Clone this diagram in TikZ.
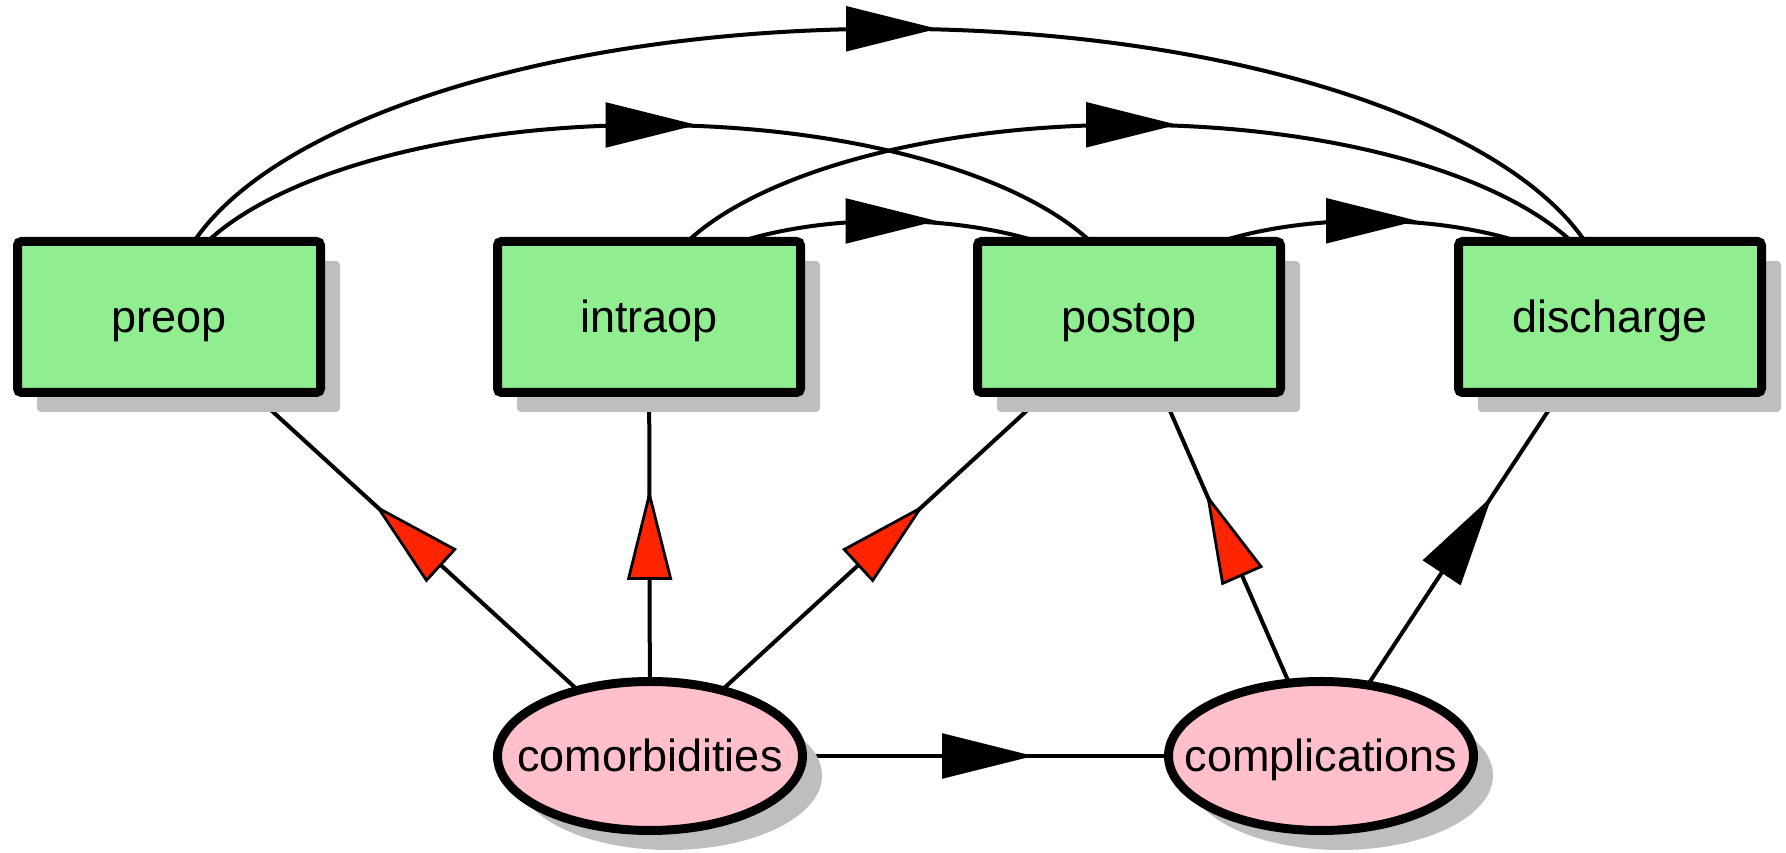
\documentclass[tikz,border=0pt]{standalone}
\usepackage{fontspec}
\setmainfont{Liberation Sans}
\usetikzlibrary{shapes.geometric,shadows,backgrounds,decorations.markings}

\definecolor{boxgreen}{HTML}{90EE90}
\definecolor{nodepink}{HTML}{FFC0CB}
\definecolor{shadowgray}{HTML}{BEBEBE}
\definecolor{headred}{RGB}{255,36,0}

\tikzset{
  label font/.style={font=\fontsize{45}{54}\selectfont, text height=32pt, text depth=0pt},
  softshadow/.style={drop shadow={shadow xshift=19.5pt, shadow yshift=-19.5pt, fill=shadowgray, opacity=1}},
  stagebox/.style={rectangle, draw, line width=9pt, fill=boxgreen, rounded corners=4pt,
    minimum width=303pt, minimum height=151pt, inner sep=0pt, label font, softshadow},
  factor/.style={ellipse, draw, line width=9pt, fill=nodepink,
    minimum width=305pt, minimum height=149pt, inner sep=0pt, label font, softshadow},
  link/.style={line width=4pt},
  midarrow/.style={postaction={decorate}, decoration={markings,
    mark=at position 0.5 with {\draw[line width=2.8pt, fill=#1] (-42pt,-21pt) -- (42pt,0pt) -- (-42pt,21pt) -- cycle;}}},
  midarrow/.default=black
}

\begin{document}
\begin{tikzpicture}[x=1pt, y=1pt]
\useasboundingbox (0,0) rectangle (1786,853);

% surgical stages
\node[stagebox] (preop)     at (169,536)  {preop};
\node[stagebox] (intraop)   at (649,536)  {intraop};
\node[stagebox] (postop)    at (1129,536) {postop};
\node[stagebox] (discharge) at (1610,536) {discharge};

% patient factors
\node[factor] (comorb)  at (650,97)  {\makebox[0pt]{comorbidities}};
\node[factor] (complic) at (1321,97) {\makebox[0pt]{complications}};

\begin{scope}[on background layer]
  % arcs between stages
  \draw[link, midarrow] (preop.center)   arc[start angle=180, end angle=0, x radius=720.5, y radius=288.2];
  \draw[link, midarrow] (preop.center)   arc[start angle=180, end angle=0, x radius=480,   y radius=192];
  \draw[link, midarrow] (intraop.center) arc[start angle=180, end angle=0, x radius=480.5, y radius=192.2];
  \draw[link, midarrow] (intraop.center) arc[start angle=180, end angle=0, x radius=240,   y radius=96];
  \draw[link, midarrow] (postop.center)  arc[start angle=180, end angle=0, x radius=240.5, y radius=96.2];

  % factor effects
  \draw[link, midarrow=headred] (comorb.center)  -- (preop.center);
  \draw[link, midarrow=headred] (comorb.center)  -- (intraop.center);
  \draw[link, midarrow=headred] (comorb.center)  -- (postop.center);
  \draw[link, midarrow=headred] (complic.center) -- (postop.center);
  \draw[link, midarrow]         (complic.center) -- (discharge.center);
  \draw[link, midarrow]         (comorb.center)  -- (complic.center);
\end{scope}
\end{tikzpicture}
\end{document}
